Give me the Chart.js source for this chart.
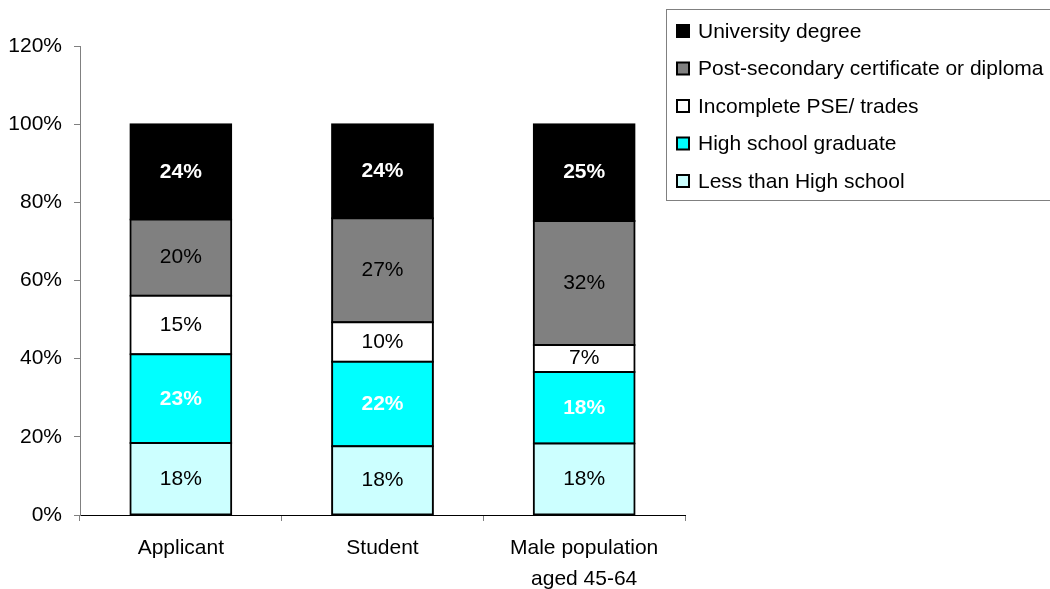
<!DOCTYPE html>
<html>
<head>
<meta charset="utf-8">
<script src="https://cdn.jsdelivr.net/npm/chart.js@4.4.0/dist/chart.umd.min.js"></script>
<style>
  html, body { margin: 0; padding: 0; background: #fff; }
  #wrap { width: 1050px; height: 589px; }
</style>
</head>
<body>
<div id="wrap"><canvas id="chart" width="1050" height="589"></canvas></div>
<script>
// categories along the x axis
var categories = ['Applicant', 'Student', ['Male population', 'aged 45-64']];
var seriesNames = ['Less than High school', 'High school graduate', 'Incomplete PSE/ trades',
                   'Post-secondary certificate or diploma', 'University degree'];
// percent share per category (bottom to top)
var lessThanHS = [18.4, 17.6, 18.3];
var hsGraduate = [22.7, 21.6, 18.3];
var incompletePSE = [15.0, 10.1, 6.9];
var postSecondary = [19.5, 26.6, 31.7];
var university = [24.4, 24.1, 24.8];
var yTicks = [0, 20, 40, 60, 80, 100, 120];

var fills = ['#CCFFFF', '#00FFFF', '#FFFFFF', '#808080', '#000000'];
var labelStyle = [
    { color: '#000', weight: 'normal' },
    { color: '#fff', weight: 'bold' },
    { color: '#000', weight: 'normal' },
    { color: '#000', weight: 'normal' },
    { color: '#fff', weight: 'bold' }
];
var FONT = '"Liberation Sans", Arial, sans-serif';

var allValues = [lessThanHS, hsGraduate, incompletePSE, postSecondary, university];
var datasets = allValues.map(function (vals, i) {
    return {
        label: seriesNames[i],
        data: vals,
        backgroundColor: fills[i],
        borderColor: '#000',
        borderWidth: 2,
        inflateAmount: 1,
        borderSkipped: false,
        categoryPercentage: 1.0,
        barPercentage: 0.5
    };
});

// writes the rounded value in the middle of each segment
var valueLabels = {
    id: 'valueLabels',
    afterDatasetsDraw: function (chart) {
        var ctx = chart.ctx;
        ctx.save();
        ctx.textAlign = 'center';
        ctx.textBaseline = 'middle';
        chart.data.datasets.forEach(function (ds, i) {
            var meta = chart.getDatasetMeta(i);
            ctx.fillStyle = labelStyle[i].color;
            ctx.font = labelStyle[i].weight + ' 21px ' + FONT;
            meta.data.forEach(function (bar, j) {
                var mid = (bar.y + bar.base) / 2;
                ctx.fillText(Math.round(ds.data[j]) + '%', bar.x, mid);
            });
        });
        ctx.restore();
    }
};

// boxed legend, top series first
var boxLegend = {
    id: 'boxLegend',
    afterDraw: function (chart) {
        var ctx = chart.ctx;
        ctx.save();
        ctx.strokeStyle = '#808080';
        ctx.lineWidth = 1;
        ctx.strokeRect(666.5, 9.5, 400, 191);
        var order = chart.data.datasets.slice().reverse();
        ctx.font = '21px ' + FONT;
        ctx.textBaseline = 'middle';
        ctx.textAlign = 'left';
        order.forEach(function (ds, k) {
            var cy = 31 + k * 37.5;
            ctx.fillStyle = ds.backgroundColor;
            ctx.fillRect(677, cy - 6, 12, 12);
            ctx.strokeStyle = '#000';
            ctx.lineWidth = 2;
            ctx.strokeRect(677, cy - 6, 12, 12);
            ctx.fillStyle = '#000';
            ctx.fillText(ds.label, 698, cy + 1);
        });
        ctx.restore();
    }
};

new Chart(document.getElementById('chart'), {
    type: 'bar',
    data: { labels: categories, datasets: datasets },
    plugins: [valueLabels, boxLegend],
    options: {
        responsive: false,
        animation: false,
        layout: { padding: { left: 0, right: 365, top: 46, bottom: 0 } },
        plugins: {
            legend: { display: false },
            tooltip: { enabled: false }
        },
        scales: {
            x: {
                stacked: true,
                afterFit: function (axis) { axis.height = 74; },
                grid: { drawOnChartArea: false, drawTicks: true, tickLength: 6, color: '#808080', offset: true },
                border: { display: true, color: '#000', width: 1 },
                ticks: { color: '#000', font: { family: FONT, size: 21, lineHeight: 1.5 }, padding: 11, maxRotation: 0 }
            },
            y: {
                stacked: true,
                min: 0,
                max: 120,
                afterFit: function (axis) { axis.width = 80; },
                afterBuildTicks: function (axis) {
                    axis.ticks = yTicks.map(function (v) { return { value: v }; });
                },
                grid: { drawOnChartArea: false, drawTicks: true, tickLength: 6, color: '#808080' },
                border: { display: true, color: '#808080', width: 1 },
                ticks: {
                    color: '#000',
                    font: { family: FONT, size: 21 },
                    padding: 12,
                    callback: function (v) { return v + '%'; }
                }
            }
        }
    }
});
</script>
</body>
</html>
